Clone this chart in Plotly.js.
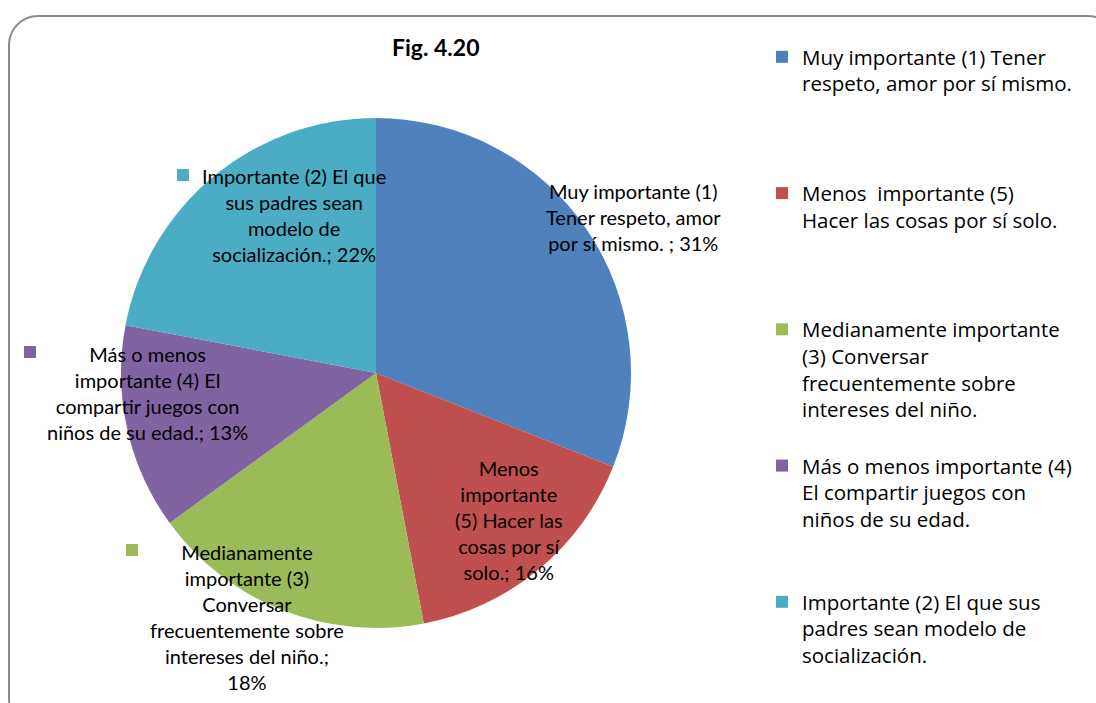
<!DOCTYPE html>
<html>
<head>
<meta charset="utf-8">
<script src="https://cdn.plot.ly/plotly-3.0.1.min.js"></script>
<style>
  html, body { margin: 0; padding: 0; background: #ffffff; overflow: hidden; }
  #frame { position: absolute; left: 8px; top: 15px; width: 1110px; height: 715px;
           box-sizing: border-box; border: 2px solid #8a8a8a; border-radius: 30px; z-index: 0; }
  #chart { position: absolute; left: 0; top: 0; width: 1096px; height: 703px; z-index: 1; }
</style>
</head>
<body>
<div id="frame"></div>
<div id="chart"></div>
<script>
// ---- data ----
const chartTitle = "Fig. 4.20";
const categories = [
  "Muy importante (1) Tener respeto, amor por sí mismo.",
  "Menos  importante (5) Hacer las cosas por sí solo.",
  "Medianamente importante (3) Conversar frecuentemente sobre intereses del niño.",
  "Más o menos importante (4) El compartir juegos con niños de su edad.",
  "Importante (2) El que sus padres sean modelo de socialización."
];
const percentValues = [31, 16, 18, 13, 22];
const sliceColors = ["#4F81BD", "#C0504D", "#9BBB59", "#8064A2", "#4BACC6"];
// wrapped legend text (as in the reference)
const legendLines = [
  ["Muy importante (1) Tener", "respeto, amor por sí mismo."],
  ["Menos  importante (5)", "Hacer las cosas por sí solo."],
  ["Medianamente importante", "(3) Conversar", "frecuentemente sobre", "intereses del niño."],
  ["Más o menos importante (4)", "El compartir juegos con", "niños de su edad."],
  ["Importante (2) El que sus", "padres sean modelo de", "socialización."]
];
// wrapped data-label text (name; percent)
const labelLines = [
  ["Muy importante (1)", "Tener respeto, amor", "por sí mismo. ; 31%"],
  ["Menos", "importante", "(5) Hacer las", "cosas por sí", "solo.; 16%"],
  ["Medianamente", "importante (3)", "Conversar", "frecuentemente sobre", "intereses del niño.;", "18%"],
  ["Más o menos", "importante (4) El", "compartir juegos con", "niños de su edad.; 13%"],
  ["Importante (2) El que", "sus padres sean", "modelo de", "socialización.; 22%"]
];
// label anchor positions (pixels, centre of text block) and legend-key positions
const labelCenters = [[633, 217], [509, 520], [247, 617], [147, 393], [294, 215]];
const keyPos = [null, null, [132, 550], [30, 352], [183, 175]];

// ---- layout helpers ----
const W = 1096, H = 703;
const px = x => x / W;
const py = y => 1 - y / H;

// pad legend entries to equal height (5 lines each)
const LEG_LINES = 5;
const legendLabels = legendLines.map((ls, i) => {
  const arr = ls.slice();
  if (i < legendLines.length - 1) { while (arr.length < LEG_LINES) arr.push("\u00a0"); }
  return arr.join("<br>");
});

const FONT = "Lato, 'Open Sans', 'DejaVu Sans', sans-serif";
const LEGEND_FONT = "'Open Sans', Lato, 'DejaVu Sans', sans-serif";

const trace = {
  type: "pie",
  labels: legendLabels,
  values: percentValues,
  sort: false,
  direction: "clockwise",
  rotation: 0,
  marker: { colors: sliceColors, line: { width: 0 } },
  textinfo: "none",
  hoverinfo: "label+percent",
  domain: { x: [px(121), px(631)], y: [py(628), py(118)] }
};

const annotations = labelLines.map((ls, i) => ({
  xref: "paper", yref: "paper",
  x: px(labelCenters[i][0]), y: py(labelCenters[i][1]),
  xanchor: "center", yanchor: "middle", align: "center",
  text: ls.join("<br>"), showarrow: false,
  font: { family: FONT, size: 20, color: "#000000" }
}));
annotations.push({
  xref: "paper", yref: "paper", x: px(436), y: py(47),
  xanchor: "center", yanchor: "middle",
  text: "<b>" + chartTitle + "</b>", showarrow: false,
  font: { family: FONT, size: 23, color: "#000000" }
});

const shapes = [];
keyPos.forEach((p, i) => {
  if (!p) return;
  shapes.push({
    type: "rect", xref: "paper", yref: "paper",
    x0: px(p[0] - 6), x1: px(p[0] + 6), y0: py(p[1] + 6), y1: py(p[1] - 6),
    fillcolor: sliceColors[i], line: { width: 0 }
  });
});

const layout = {
  width: W, height: H,
  margin: { l: 0, r: 0, t: 0, b: 0 },
  paper_bgcolor: "rgba(0,0,0,0)",
  plot_bgcolor: "rgba(0,0,0,0)",
  showlegend: true,
  legend: {
    x: px(762), y: py(37), xanchor: "left", yanchor: "top",
    valign: "top", bgcolor: "rgba(0,0,0,0)",
    font: { family: LEGEND_FONT, size: 20.5, color: "#000000" },
    itemclick: false, itemdoubleclick: false
  },
  annotations: annotations,
  shapes: shapes
};

Plotly.newPlot("chart", [trace], layout, { displayModeBar: false, staticPlot: true });
</script>
</body>
</html>
